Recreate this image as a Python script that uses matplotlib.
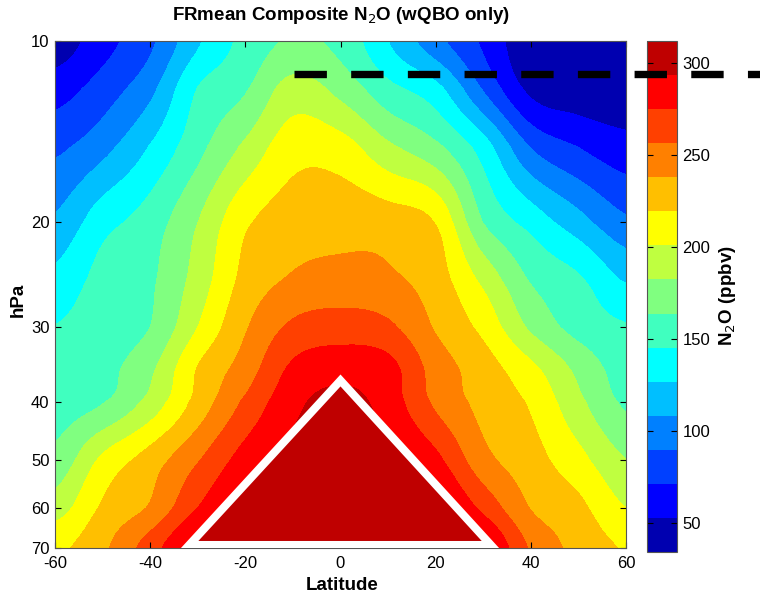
import numpy as np
import matplotlib
matplotlib.use("Agg")
import matplotlib.pyplot as plt
from matplotlib.colors import ListedColormap, BoundaryNorm
from matplotlib.lines import Line2D
from matplotlib.patches import Polygon
from matplotlib.ticker import NullLocator

plt.rcParams['font.family'] = ['Liberation Sans', 'DejaVu Sans']
plt.rcParams['axes.unicode_minus'] = False

# grid
lats = [-60, -50, -40, -30, -20, -10, 0, 10, 20, 30, 40, 50, 60]
pressures = [10, 12, 15, 20, 25, 30, 35, 40, 50, 60, 70]

# N2O (ppbv), one row per pressure level
n2o_10 = [42, 64, 86, 124, 151, 166, 158, 127, 96, 68, 38, 37, 36]
n2o_12 = [63, 80, 103, 146, 162, 190, 176, 151, 133, 88, 48, 42, 40]
n2o_15 = [86, 102, 128, 158, 186, 212, 209, 186, 168, 136, 89, 71, 60]
n2o_20 = [111, 138, 154, 182, 216, 229, 232, 229, 218, 163, 138, 115, 93]
n2o_25 = [132, 152, 161, 190, 225, 240, 243, 241, 228, 196, 162, 148, 125]
n2o_30 = [146, 155, 164, 201, 236, 260, 266, 260, 236, 214, 179, 157, 147]
n2o_35 = [151, 158, 178, 220, 246, 278, 285, 281, 248, 228, 205, 177, 155]
n2o_40 = [155, 163, 189, 226, 260, 288, 300, 285, 253, 232, 217, 187, 161]
n2o_50 = [169, 205, 228, 255, 283, 300, 308, 300, 280, 244, 227, 207, 183]
n2o_60 = [192, 222, 240, 275, 298, 308, 310, 308, 300, 270, 237, 224, 201]
n2o_70 = [215, 234, 266, 300, 308, 310, 311, 310, 306, 298, 254, 232, 218]

levels = np.linspace(34.5, 312, 16)
cbar_ticks = [50, 100, 150, 200, 250, 300]

# triangle and dashed line (latitude, hPa)
tri_lat = [-31.8, 0, 31.6]
tri_p = [69.2, 36.8, 69.2]
dash_lat = [-9.7, 100]
dash_p = [11.33, 11.33]

colors = [(0, 0, 0.69), (0, 0, 1), (0, 0.25, 1), (0, 0.5, 1), (0, 0.75, 1),
          (0, 1, 1), (0.25, 1, 0.75), (0.5, 1, 0.5), (0.75, 1, 0.25), (1, 1, 0),
          (1, 0.75, 0), (1, 0.5, 0), (1, 0.25, 0), (1, 0, 0), (0.75, 0, 0)]


def upsample(v, axis, factor):
    # Catmull-Rom resampling so the filled contours come out smooth
    n = v.shape[axis]
    t = np.linspace(0, n - 1, (n - 1) * factor + 1)
    i = np.clip(np.floor(t).astype(int), 0, n - 2)
    u = t - i
    shape = [1] * v.ndim
    shape[axis] = len(t)
    u = u.reshape(shape)
    pts = [np.take(v, np.clip(i + k, 0, n - 1), axis=axis) for k in (-1, 0, 1, 2)]
    w0 = -0.5 * u**3 + u**2 - 0.5 * u
    w1 = 1.5 * u**3 - 2.5 * u**2 + 1
    w2 = -1.5 * u**3 + 2 * u**2 + 0.5 * u
    w3 = 0.5 * u**3 - 0.5 * u**2
    return w0 * pts[0] + w1 * pts[1] + w2 * pts[2] + w3 * pts[3], t


def main():
    n2o = np.array([n2o_10, n2o_12, n2o_15, n2o_20, n2o_25, n2o_30,
                    n2o_35, n2o_40, n2o_50, n2o_60, n2o_70], dtype=float)
    fine, tp = upsample(n2o, 0, 8)
    fine, tl = upsample(fine, 1, 8)
    fine = np.clip(fine, levels[0] + 0.1, levels[-1] - 0.1)
    lat_f = np.interp(tl, np.arange(len(lats)), lats)
    p_f = np.exp(np.interp(tp, np.arange(len(pressures)), np.log(pressures)))

    cmap = ListedColormap(colors)
    norm = BoundaryNorm(levels, cmap.N)

    fig = plt.figure(figsize=(7.6, 6.02), dpi=100)
    W, H = 760.0, 602.0
    ax = fig.add_axes([55 / W, 1 - 548 / H, 571 / W, 507 / H])
    cax = fig.add_axes([647 / W, 1 - 552 / H, 30 / W, 511 / H])

    cs = ax.contourf(lat_f, p_f, fine, levels=levels, cmap=cmap, norm=norm)
    ax.set_yscale('log')
    ax.set_ylim(70, 10)
    ax.set_xlim(-60, 60)
    ax.set_yticks([10, 20, 30, 40, 50, 60, 70])
    ax.set_yticklabels(['10', '20', '30', '40', '50', '60', '70'])
    ax.yaxis.set_minor_locator(NullLocator())
    ax.set_xticks([-60, -40, -20, 0, 20, 40, 60])
    ax.tick_params(direction='in', top=True, right=True, length=4,
                   labelsize=12, pad=4)
    ax.tick_params(axis='x', pad=6)
    for s in ax.spines.values():
        s.set_color('#555555')

    tri = Polygon(list(zip(tri_lat, tri_p)), closed=True,
                  facecolor=colors[-1], edgecolor='white', linewidth=5.8,
                  joinstyle='miter', zorder=5)
    ax.add_patch(tri)

    cb = fig.colorbar(cs, cax=cax, ticks=cbar_ticks)
    cb.minorticks_off()
    cb.ax.tick_params(direction='in', left=True, right=True, length=4,
                      labelsize=12, pad=4)
    cb.outline.set_edgecolor('#555555')

    line = Line2D(dash_lat, dash_p, transform=ax.transData, color='black',
                  linewidth=5.3, linestyle=(0, (4.4, 3.3)),
                  dash_capstyle='butt', zorder=10)
    fig.add_artist(line)

    fig.text(341 / W, 1 - 15 / H, 'FRmean Composite N$_2$O (wQBO only)',
             ha='center', va='center', fontsize=13.5, fontweight='bold')
    fig.text(342 / W, 1 - 585 / H, 'Latitude', ha='center', va='center',
             fontsize=13.5, fontweight='bold')
    fig.text(18 / W, 1 - 300 / H, 'hPa', ha='center', va='center',
             rotation=90, fontsize=13.5, fontweight='bold')
    fig.text(727 / W, 1 - 296 / H, 'N$_2$O (ppbv)', ha='center', va='center',
             rotation=90, fontsize=13.5, fontweight='bold')

    fig.savefig('out.png', dpi=100)
    plt.close(fig)


if __name__ == "__main__":
    main()
